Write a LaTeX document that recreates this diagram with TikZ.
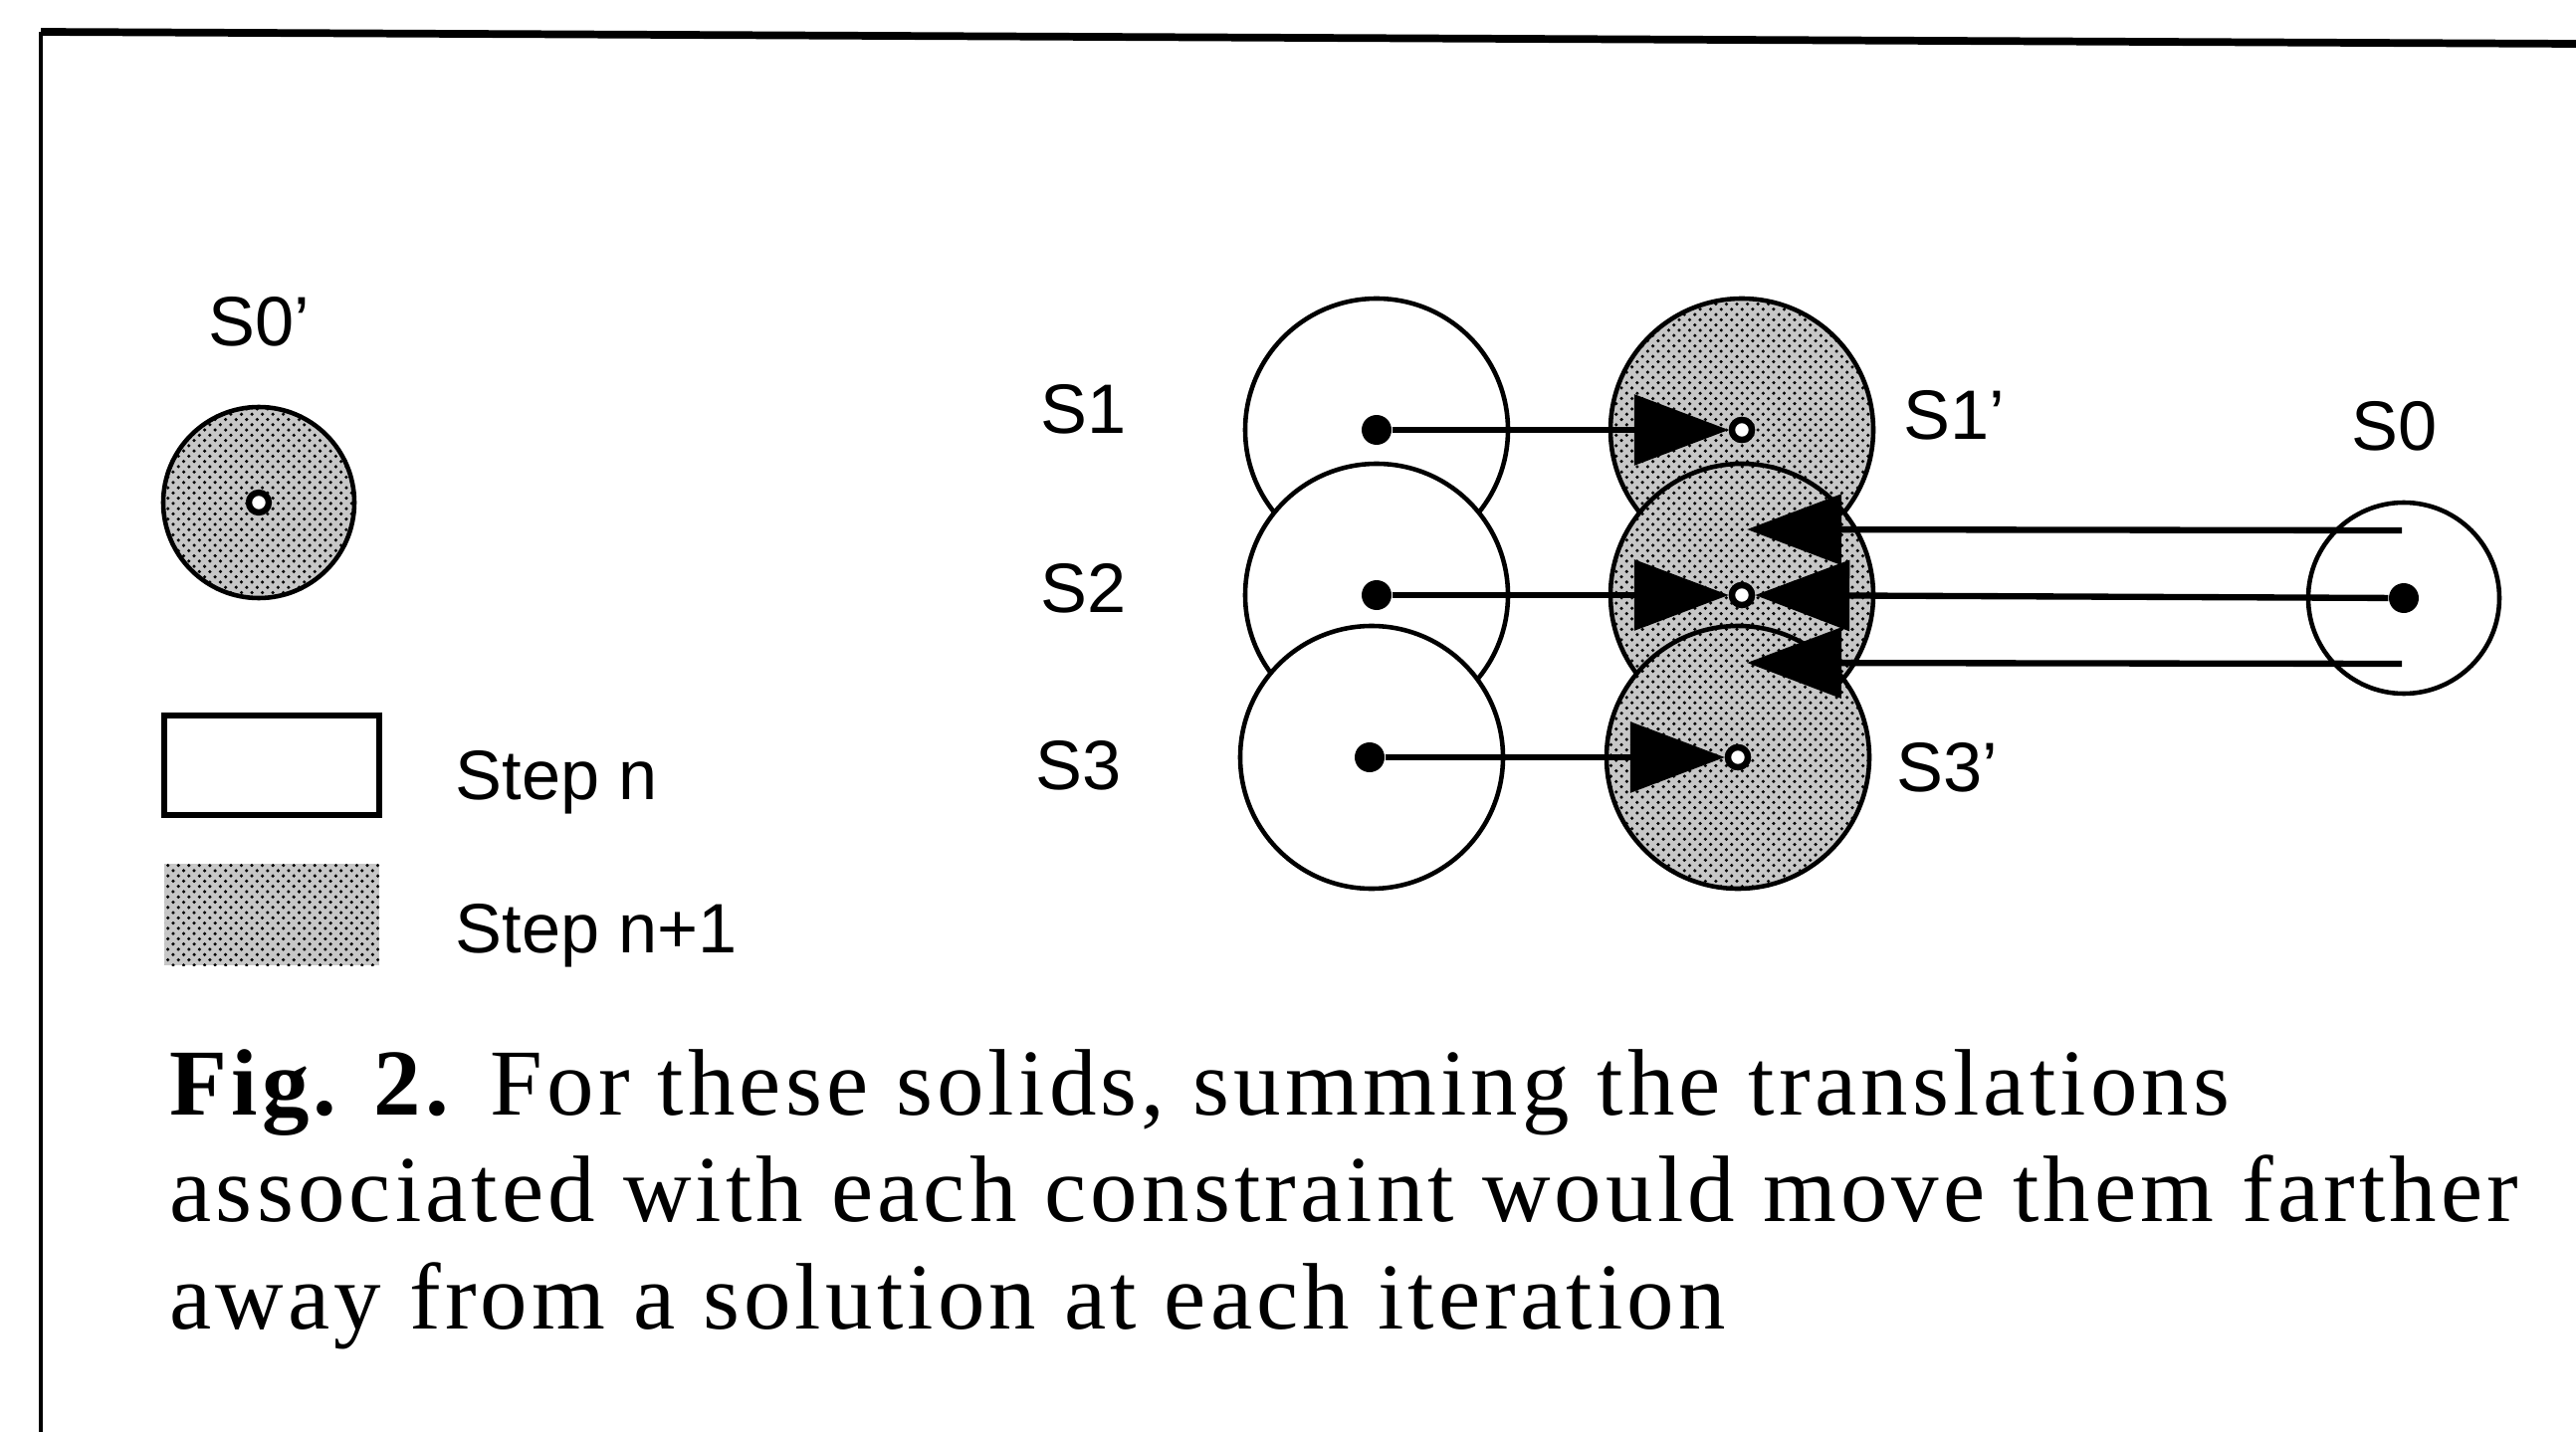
\documentclass[tikz,border=0pt]{standalone}
\usepackage{fontspec}
\setmainfont{Liberation Serif}
\setsansfont{Liberation Sans}
\newfontfamily\capfont[LetterSpace=4.4]{Liberation Serif}
\usepackage{tikz}
\usetikzlibrary{arrows.meta, positioning, calc, patterns}

\begin{document}
\begin{tikzpicture}[
    body/.style={circle, draw=black, line width=1.3pt, minimum size=#1, inner sep=0pt, fill=white},
    body/.default=2.64cm,
    moved/.style={body=#1, preaction={fill=black!22}, pattern=crosshatch dots, pattern color=black},
    moved/.default=2.64cm,
    ctr/.style={circle, fill=black, minimum size=0.3cm, inner sep=0pt},
    ring/.style={circle, draw=black, fill=white, line width=1.8pt, minimum size=0.2cm, inner sep=0pt},
    arr/.style={-{Triangle[length=0.95cm, width=0.7cm]}, line width=1.8pt},
    lbl/.style={font=\sffamily\fontsize{20}{24}\selectfont, anchor=base west, inner sep=0pt},
    captext/.style={font=\capfont\fontsize{27}{30}\selectfont, anchor=base west, inner sep=0pt},
]
    \useasboundingbox (0,0) rectangle (25.88,14.39);
    \draw[line width=2.2pt] (0.41,14.07) -- (25.88,13.95);
    \draw[line width=1pt] (0.41,14.07) -- (0.41,0);

    \node[lbl] (s0plbl) at (2.09,10.92) {S0'};
    \node[moved=1.92cm] (s0p) at (2.60,9.34) {};
    \node[ring] (r0p) at (s0p) {};

    \node[draw, line width=1.6pt, minimum width=2.16cm, minimum height=1cm, inner sep=0pt] (keyn) at (2.73,6.70) {};
    \node[lbl] (keyntxt) at (4.57,6.36) {Step n};
    \node[moved, rectangle, line width=0pt, draw=none, minimum width=2.16cm, minimum height=1.02cm] (keym) at (2.73,5.20) {};
    \node[lbl] (keymtxt) at (4.57,4.82) {Step n+1};

    \node[body] (s1) at (13.83,10.07) {};
    \node[body] (s2) at (13.83,8.41) {};
    \node[body] (s3) at (13.78,6.78) {};
    \node[moved] (s1p) at (17.50,10.07) {};
    \node[moved] (s2p) at (17.50,8.41) {};
    \node[moved] (s3p) at (17.46,6.78) {};
    \node[body=1.92cm] (s0) at (24.15,8.38) {};

    \node[lbl] (s1lbl) at (10.45,10.04) {S1};
    \node[lbl] (s2lbl) at (10.45,8.24) {S2};
    \node[lbl] (s3lbl) at (10.40,6.46) {S3};
    \node[lbl] (s1plbl) at (19.12,9.98) {S1'};
    \node[lbl] (s3plbl) at (19.05,6.44) {S3'};
    \node[lbl] (s0lbl) at (23.62,9.86) {S0};

    \node[ctr] (c1) at (s1) {};
    \node[ctr] (c2) at (s2) {};
    \node[ctr] (c3) at (13.76,6.78) {};
    \node[ctr] (c0) at (s0) {};
    \node[ring] (r1) at (s1p) {};
    \node[ring] (r2) at (s2p) {};
    \node[ring] (r3) at (s3p) {};

    \coordinate (upper0) at ($(c0)+(-0.02,0.68)$);
    \coordinate (lower0) at ($(c0)+(-0.02,-0.66)$);
    \coordinate (upperend) at ($(r2)+(0.05,0.66)$);
    \coordinate (lowerend) at ($(r2)+(0.05,-0.68)$);

    \draw[arr] (c1) -- (r1);
    \draw[arr] (c2) -- (r2);
    \draw[arr] (c3) -- (r3);
    \draw[arr] (upper0) -- (upperend);
    \draw[arr] (c0) -- (r2);
    \draw[arr] (lower0) -- (lowerend);
    \node[ring] at (r1) {};
    \node[ring] at (r2) {};
    \node[ring] at (r3) {};

    \node[captext] (cap1) at (1.70,3.19) {\textbf{Fig. 2.} For these solids, summing the translations};
    \node[captext] (cap2) at (1.70,2.12) {associated with each constraint would move them farther};
    \node[captext] (cap3) at (1.70,1.04) {away from a solution at each iteration};
\end{tikzpicture}
\end{document}
